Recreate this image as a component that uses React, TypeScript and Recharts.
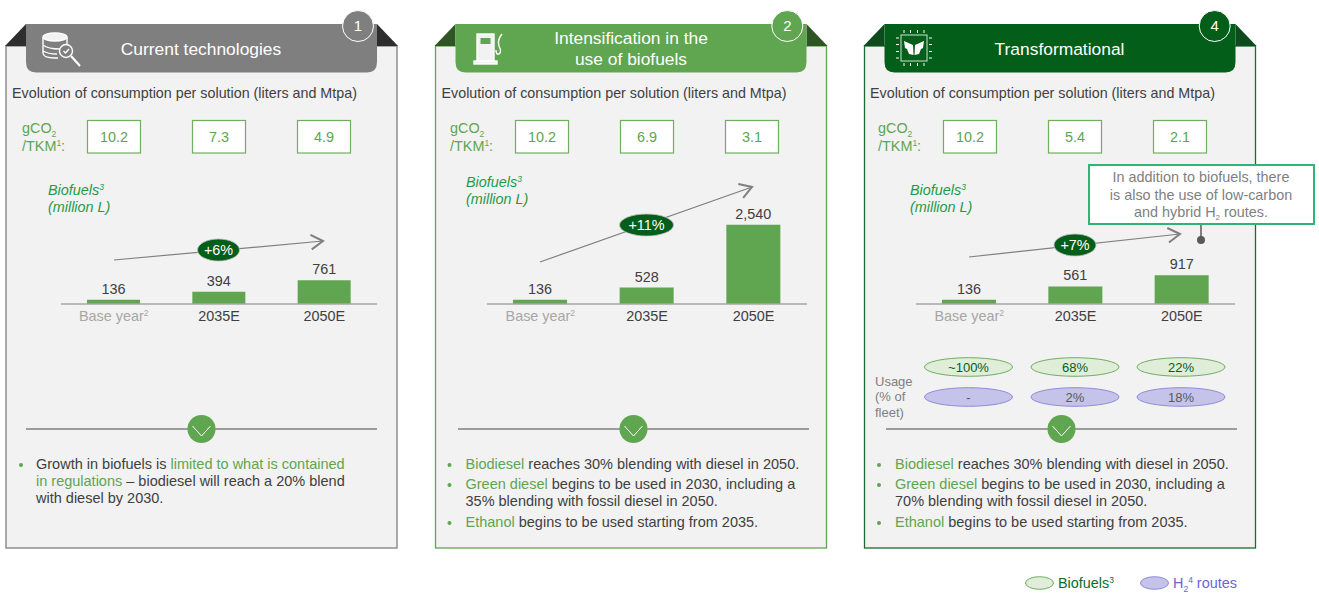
import { Bar, BarChart, LabelList, XAxis, YAxis } from "recharts";

const FONT = '"Liberation Sans", Arial, sans-serif';
const GREEN = "#60a550";
const DARK = "#404040";
const GREY = "#7f7f7f";

const years = ["Base year", "2035E", "2050E"];
const currentBiofuels = [136, 394, 761];
const intensifiedBiofuels = [136, 528, 2540];
const transformationalBiofuels = [136, 561, 917];

const currentCo2 = ["10.2", "7.3", "4.9"];
const intensifiedCo2 = ["10.2", "6.9", "3.1"];
const transformationalCo2 = ["10.2", "5.4", "2.1"];

const biofuelUsage = ["~100%", "68%", "22%"];
const h2Usage = ["-", "2%", "18%"];

const toRows = (values: number[]) => years.map((year, i) => ({ year, value: values[i] }));

function YearTick({ x, y, payload }: any) {
  const isBase = payload.value === "Base year";
  return (
    <text x={x} y={y + 9} textAnchor="middle" fontFamily={FONT} fontSize={14.4} fill={isBase ? "#a6a6a6" : DARK}>
      {payload.value}
      {isBase && (
        <tspan fontSize={8.5} dy={-5}>
          2
        </tspan>
      )}
    </text>
  );
}

function BiofuelBars({ values, left, width, barSize }: { values: number[]; left: number; width: number; barSize: number }) {
  return (
    <div style={{ position: "absolute", left, top: 200 }}>
      <BarChart
        width={width}
        height={130}
        data={toRows(values)}
        margin={{ top: 4, right: 0, bottom: 0, left: 0 }}
        barSize={barSize}
      >
        <XAxis
          dataKey="year"
          height={26}
          interval={0}
          tickLine={false}
          axisLine={{ stroke: "#a6a6a6", strokeWidth: 1.5 }}
          tick={<YearTick />}
        />
        <YAxis hide domain={[0, 3200]} />
        <Bar dataKey="value" fill={GREEN} isAnimationActive={false}>
          <LabelList
            dataKey="value"
            position="top"
            offset={6}
            formatter={(v: any) => Number(v).toLocaleString("en-US")}
            style={{ fontFamily: FONT, fontSize: 14.4, fill: DARK }}
          />
        </Bar>
      </BarChart>
    </div>
  );
}

function Panel({ x, stroke, fill, fold, badge, badgeX }: { x: number; stroke: string; fill: string; fold: string; badge: string; badgeX: number }) {
  const w = 391;
  const hx = x + 20;
  const hw = 351;
  return (
    <g>
      <rect x={x} y={46} width={w} height={502} fill="#f2f2f2" stroke={stroke} strokeWidth={1.3} />
      <path d={`M${x - 1} 46 L${hx} 24 L${hx} 46 Z`} fill={fold} />
      <path d={`M${hx + hw} 24 L${x + w + 1} 46 L${hx + hw} 46 Z`} fill={fold} />
      <path
        d={`M${hx} 24 H${hx + hw} V62 Q${hx + hw} 72.5 ${hx + hw - 10} 72.5 H${hx + 10} Q${hx} 72.5 ${hx} 62 Z`}
        fill={fill}
      />
      <circle cx={badgeX} cy={26} r={15.5} fill={fill} stroke="#fff" strokeWidth={1} />
      <text x={badgeX} y={31} textAnchor="middle" fontSize={15} fill="#fff">
        {badge}
      </text>
    </g>
  );
}

function Co2Row({ labelX, boxes, values }: { labelX: number; boxes: number[]; values: string[] }) {
  return (
    <g>
      <text x={labelX} y={133} fontSize={14.4} fill={GREEN}>
        gCO
        <tspan fontSize={8.5} dy={4}>
          2
        </tspan>
      </text>
      <text x={labelX} y={151} fontSize={14.4} fill={GREEN}>
        /TKM
        <tspan fontSize={8.5} dy={-5}>
          1
        </tspan>
        <tspan dy={5}>:</tspan>
      </text>
      {boxes.map((bx, i) => (
        <g key={bx}>
          <rect x={bx} y={120.5} width={53} height={32.5} fill="#fff" stroke="#70ad60" strokeWidth={1.2} />
          <text x={bx + 26.5} y={142} textAnchor="middle" fontSize={14.4} fill={GREEN}>
            {values[i]}
          </text>
        </g>
      ))}
    </g>
  );
}

function BiofuelsTitle({ x, y }: { x: number; y: number }) {
  return (
    <g fontSize={14.4} fontStyle="italic" fill="#1f9a4b">
      <text x={x} y={y}>
        Biofuels
        <tspan fontSize={8.5} dy={-5}>
          3
        </tspan>
      </text>
      <text x={x} y={y + 17}>
        (million L)
      </text>
    </g>
  );
}

function GrowthArrow({ from, to, pill, rx, label }: { from: number[]; to: number[]; pill: number[]; rx: number; label: string }) {
  const a = Math.atan2(to[1] - from[1], to[0] - from[0]);
  const wing = (s: number) => [to[0] - 14 * Math.cos(a + s * 0.55), to[1] - 14 * Math.sin(a + s * 0.55)].join(" ");
  return (
    <g>
      <line x1={from[0]} y1={from[1]} x2={to[0]} y2={to[1]} stroke={GREY} strokeWidth={1.2} />
      <path d={`M${wing(1)} L${to[0]} ${to[1]} L${wing(-1)}`} fill="none" stroke={GREY} strokeWidth={2} />
      <ellipse cx={pill[0]} cy={pill[1]} rx={rx} ry={11} fill="#035e1a" stroke="#bfbfbf" strokeWidth={0.8} />
      <text x={pill[0]} y={pill[1] + 5} textAnchor="middle" fontSize={14.4} fill="#fff">
        {label}
      </text>
    </g>
  );
}

function Divider({ x }: { x: number }) {
  const cx = x + 175.5;
  return (
    <g>
      <line x1={x} y1={429} x2={x + 351} y2={429} stroke={GREY} strokeWidth={1.5} />
      <circle cx={cx} cy={429} r={14} fill={GREEN} />
      <path d={`M${cx - 9} 426 L${cx} 436 L${cx + 9} 426`} fill="none" stroke="#fff" strokeWidth={1} />
    </g>
  );
}

function DetailBullets({ x }: { x: number }) {
  return (
    <g fontSize={14.5} fill={DARK}>
      {[465, 485, 523].map((cy) => (
        <circle key={cy} cx={x - 16} cy={cy} r={2} fill={GREEN} />
      ))}
      <text x={x} y={469}>
        <tspan fill={GREEN}>Biodiesel</tspan> reaches 30% blending with diesel in 2050.
      </text>
      <text x={x} y={489}>
        <tspan fill={GREEN}>Green diesel</tspan> begins to be used in 2030, including a
      </text>
      <text x={x} y={506}>
        {x < 600 ? "35%" : "70%"} blending with fossil diesel in 2050.
      </text>
      <text x={x} y={527}>
        <tspan fill={GREEN}>Ethanol</tspan> begins to be used starting from 2035.
      </text>
    </g>
  );
}

function DatabaseIcon() {
  return (
    <g fill="none" stroke="#fff" strokeWidth={1.4}>
      <ellipse cx={55} cy={37} rx={12} ry={4} fill="#f2f2f2" />
      <path d="M43 37 V53 Q43 58 55 58 L58 58 M67 37 V46 M43 45 Q48 49 60 49 M43 51 Q48 54 57 54" />
      <circle cx={66} cy={51} r={6.5} fill={GREY} />
      <path d="M63.5 51 L65.5 53 L69 49" />
      <path d="M71 56 L80 66" strokeWidth={2.2} />
    </g>
  );
}

function PumpIcon() {
  return (
    <g fill="none" stroke="#fff" strokeWidth={1.4}>
      <rect x={477} y={34} width={17} height={28} fill="#f2f2f2" />
      <rect x={480.5} y={38} width={10} height={6} fill={GREEN} stroke="none" />
      <rect x={474} y={61} width={23} height={3} fill="#f2f2f2" />
      <path d="M502 34 Q497 40 499 46 Q502 52 499 54 Q496 55 496 50" />
    </g>
  );
}

function ChipIcon() {
  const pins = [-10, -3.5, 3.5, 10];
  return (
    <g stroke="#fff" fill="none" strokeWidth={1}>
      <rect x={901} y={35} width={26} height={26} stroke="#cfe3c9" />
      {pins.map((p) => (
        <g key={p}>
          <line x1={914 + p} y1={30} x2={914 + p} y2={33} />
          <line x1={914 + p} y1={63} x2={914 + p} y2={66} />
          <line x1={896} y1={48 + p} x2={899} y2={48 + p} />
          <line x1={929} y1={48 + p} x2={932} y2={48 + p} />
        </g>
      ))}
      <path d="M904 41 L913 45 L913.5 55 L909 54 L907 49 L905 48 Z" fill="#fff" stroke="none" />
      <path d="M924 41 L915 45 L914.5 55 L919 54 L921 49 L923 48 Z" fill="#fff" stroke="none" />
    </g>
  );
}

function UsageRow({ y, values, fill, stroke, color }: { y: number; values: string[]; fill: string; stroke: string; color: string }) {
  return (
    <g>
      {[968.5, 1075, 1181].map((cx, i) => (
        <g key={cx}>
          <ellipse cx={cx} cy={y} rx={44} ry={9.3} fill={fill} stroke={stroke} strokeWidth={1} />
          <text x={cx} y={y + 4.5} textAnchor="middle" fontSize={13} fill={color}>
            {values[i]}
          </text>
        </g>
      ))}
    </g>
  );
}

export default function App() {
  return (
    <div style={{ position: "absolute", left: 0, top: 0, width: 1319, height: 593, background: "#fff", overflow: "hidden" }}>
      <svg width={1319} height={593} fontFamily={FONT} style={{ position: "absolute", left: 0, top: 0 }}>
        <Panel x={6} stroke={GREY} fill={GREY} fold="#2e2e2e" badge="1" badgeX={358} />
        <Panel x={435.5} stroke={GREEN} fill={GREEN} fold="#2f5523" badge="2" badgeX={787.3} />
        <Panel x={864.5} stroke="#1a6b30" fill="#035e1a" fold="#0d4a1c" badge="4" badgeX={1214.7} />
      </svg>

      <BiofuelBars values={currentBiofuels} left={61} width={316} barSize={53} />
      <BiofuelBars values={intensifiedBiofuels} left={487} width={320} barSize={54} />
      <BiofuelBars values={transformationalBiofuels} left={916} width={319} barSize={54} />

      <svg width={1319} height={593} fontFamily={FONT} style={{ position: "absolute", left: 0, top: 0 }}>
        <DatabaseIcon />
        <PumpIcon />
        <ChipIcon />

        <g fontSize={17.4} fill="#fff" textAnchor="middle">
          <text x={201} y={55}>Current technologies</text>
          <text x={631} y={44}>Intensification in the</text>
          <text x={631} y={65}>use of biofuels</text>
          <text x={1059.5} y={55}>Transformational</text>
        </g>

        <g fontSize={14.3} fill={DARK}>
          <text x={12} y={98}>Evolution of consumption per solution (liters and Mtpa)</text>
          <text x={441.5} y={98}>Evolution of consumption per solution (liters and Mtpa)</text>
          <text x={870} y={98}>Evolution of consumption per solution (liters and Mtpa)</text>
        </g>

        <Co2Row labelX={22} boxes={[87.5, 192.5, 297.5]} values={currentCo2} />
        <Co2Row labelX={450} boxes={[515.5, 620.5, 725.5]} values={intensifiedCo2} />
        <Co2Row labelX={878} boxes={[943.5, 1048.5, 1153.5]} values={transformationalCo2} />

        <BiofuelsTitle x={48} y={195} />
        <BiofuelsTitle x={466} y={187} />
        <BiofuelsTitle x={910} y={195} />

        <GrowthArrow from={[114, 260]} to={[323, 241]} pill={[218.5, 250]} rx={21} label="+6%" />
        <GrowthArrow from={[540, 262]} to={[752, 187]} pill={[646.5, 225]} rx={27} label="+11%" />
        <GrowthArrow from={[969, 257]} to={[1180, 234]} pill={[1075, 245]} rx={21} label="+7%" />

        <line x1={1201} y1={224} x2={1201} y2={240} stroke="#595959" strokeWidth={1.5} />
        <circle cx={1201} cy={240} r={4} fill="#595959" />
        <rect x={1089} y={165} width={225} height={59} fill="#fff" stroke="#2fb573" strokeWidth={2} />
        <g fontSize={14.4} fill={GREY} textAnchor="middle">
          <text x={1201} y={182}>In addition to biofuels, there</text>
          <text x={1201} y={200}>is also the use of low-carbon</text>
          <text x={1201} y={217}>
            and hybrid H
            <tspan fontSize={8} dy={3}>2</tspan>
            <tspan dy={-3}> routes.</tspan>
          </text>
        </g>

        <UsageRow y={367} values={biofuelUsage} fill="#e0edd9" stroke="#70ad60" color="#035e1a" />
        <UsageRow y={397} values={h2Usage} fill="#c5c3e9" stroke="#8f8ad9" color="#595959" />
        <g fontSize={13} fill={GREY}>
          <text x={875} y={386}>Usage</text>
          <text x={875} y={401}>(% of</text>
          <text x={875} y={417}>fleet)</text>
        </g>

        <Divider x={26} />
        <Divider x={458} />
        <Divider x={886} />

        <g fontSize={14.5} fill={DARK}>
          <circle cx={21} cy={465} r={2} fill={GREEN} />
          <text x={36} y={469}>
            Growth in biofuels is <tspan fill={GREEN}>limited to what is contained</tspan>
          </text>
          <text x={36} y={486}>
            <tspan fill={GREEN}>in regulations</tspan> – biodiesel will reach a 20% blend
          </text>
          <text x={36} y={503}>with diesel by 2030.</text>
        </g>
        <DetailBullets x={465.5} />
        <DetailBullets x={895} />

        <ellipse cx={1039.5} cy={583} rx={14} ry={6.3} fill="#e0edd9" stroke="#70ad60" />
        <text x={1058} y={588} fontSize={14.4} fill="#0a6b2b">
          Biofuels
          <tspan fontSize={8.5} dy={-5}>3</tspan>
        </text>
        <ellipse cx={1154.5} cy={583} rx={14} ry={6.3} fill="#c5c3e9" stroke="#8f8ad9" />
        <text x={1173} y={588} fontSize={14.4} fill="#6a64d6">
          H
          <tspan fontSize={8.5} dy={4}>2</tspan>
          <tspan fontSize={8.5} dy={-9}>4</tspan>
          <tspan dy={5}> routes</tspan>
        </text>
      </svg>
    </div>
  );
}
